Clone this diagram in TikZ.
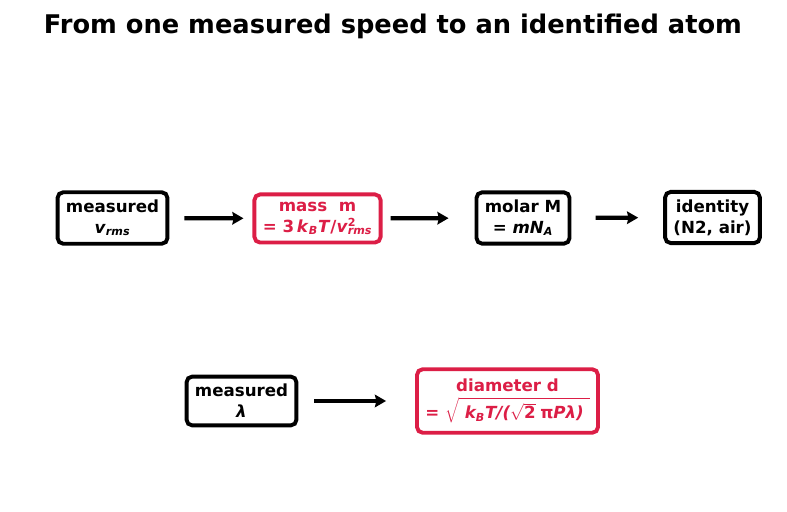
\documentclass[tikz,border=0pt]{standalone}
\usepackage{fontspec}
\setmainfont{DejaVu Sans}
\usetikzlibrary{arrows.meta}
\definecolor{crim}{RGB}{220,30,70}
\newcommand{\bi}[1]{\textit{#1}}
\begin{document}
\begin{tikzpicture}[x=0.72pt,y=0.72pt,
  box/.style={draw=black,line width=2.8pt,rounded corners=4pt,align=center,
    font=\fontsize{12}{15}\selectfont\bfseries,inner xsep=6pt,inner ysep=5.5pt,fill=white},
  redbox/.style={box,draw=crim,text=crim},
  arr/.style={line width=3pt,-{Stealth[length=8pt,width=9pt,inset=1pt]}}]
\useasboundingbox (0,0) rectangle (787,512);

\node[font=\fontsize{18.5}{22}\selectfont\bfseries] (title) at (393,486) {From one measured speed to an identified atom};

% top row
\node[box] (vrms) at (112.5,294) {measured\\ \bi{v}\textsubscript{\bi{rms}}};
\node[redbox] (mass) at (317.5,293.5) {mass\ \ m\\ = 3\,\bi{k}\textsubscript{\bi{B}}\bi{T}/\bi{v}\rlap{\textsuperscript{2}}\textsubscript{\bi{rms}}};
\node[box] (molar) at (523,294) {molar M\\ = \bi{mN}\textsubscript{\bi{A}}};
\node[box] (ident) at (712.5,294.5) {identity\\ (N2, air)};

% bottom row
\node[redbox,inner ysep=7pt] (diam) at (507.5,111) {diameter d\\[3pt] = $\sqrt{\rule{0pt}{13pt}\mbox{\bfseries\itshape\ k\textsubscript{B}T/(}\sqrt{\mbox{\bfseries 2}}\;\mbox{\bfseries π\itshape Pλ) }}$};
\node[box] (lam) at (241.5,111) {measured\\ \bi{λ}};

\draw[arr,shorten <=10.8pt,shorten >=6.5pt] (vrms) -- (mass);
\draw[arr,shorten <=5.8pt,shorten >=18.7pt] (mass) -- (molar);
\draw[arr,shorten <=17.3pt,shorten >=18pt] (molar) -- (ident);
\draw[arr,shorten <=11.5pt,shorten >=20.9pt] (lam) -- (diam);
\end{tikzpicture}
\end{document}
